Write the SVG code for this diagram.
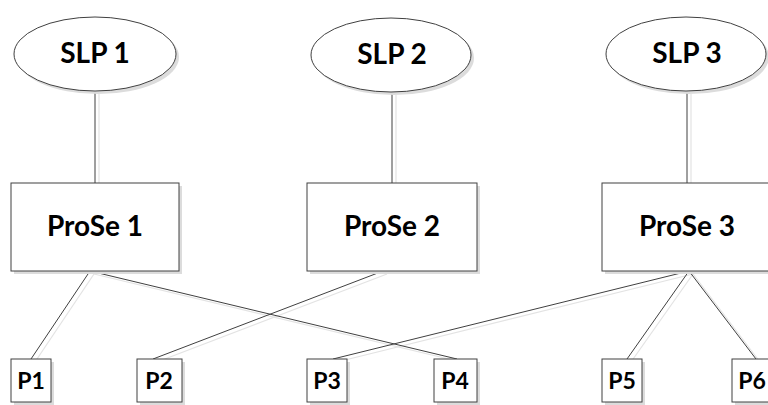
<svg xmlns="http://www.w3.org/2000/svg" width="768" height="405" viewBox="0 0 768 405">
  <style>
    .shape { fill: #ffffff; stroke: #404040; stroke-width: 1; }
    .shadow { fill: #dcdcdc; stroke: none; }
    .conn { stroke: #404040; stroke-width: 1; fill: none; }
    .connsh { stroke: #e3e3e3; stroke-width: 1.2; fill: none; }
    .big { font-family: Lato, "Liberation Sans", sans-serif; font-weight: bold; font-size: 28px; fill: #000; text-anchor: middle; }
    .mid { font-family: Lato, "Liberation Sans", sans-serif; font-weight: bold; font-size: 28px; fill: #000; text-anchor: middle; }
    .small { font-family: Lato, "Liberation Sans", sans-serif; font-weight: bold; font-size: 23px; fill: #000; text-anchor: middle; }
  </style>
  <rect width="768" height="405" fill="#ffffff"/>
  <g id="connectors">
    <g transform="translate(4,3)">
      <line class="connsh" x1="95" y1="91" x2="95" y2="183"/>
      <line class="connsh" x1="392" y1="92" x2="392" y2="183"/>
      <line class="connsh" x1="687" y1="91" x2="687" y2="183"/>
      <line class="connsh" x1="90" y1="271" x2="31" y2="359"/>
      <line class="connsh" x1="90" y1="271" x2="457" y2="359"/>
      <line class="connsh" x1="383" y1="271" x2="153" y2="359"/>
      <line class="connsh" x1="689" y1="271" x2="333" y2="359"/>
      <line class="connsh" x1="689" y1="271" x2="627" y2="359"/>
      <line class="connsh" x1="689" y1="271" x2="756" y2="359"/>
    </g>
    <line class="conn" x1="95" y1="91" x2="95" y2="183"/>
    <line class="conn" x1="392" y1="92" x2="392" y2="183"/>
    <line class="conn" x1="687" y1="91" x2="687" y2="183"/>
    <line class="conn" x1="90" y1="271" x2="31" y2="359"/>
    <line class="conn" x1="90" y1="271" x2="457" y2="359"/>
    <line class="conn" x1="383" y1="271" x2="153" y2="359"/>
    <line class="conn" x1="689" y1="271" x2="333" y2="359"/>
    <line class="conn" x1="689" y1="271" x2="627" y2="359"/>
    <line class="conn" x1="689" y1="271" x2="756" y2="359"/>
  </g>
  <g id="slp1">
    <ellipse class="shadow" cx="98" cy="57" rx="81" ry="37"/>
    <ellipse class="shape" cx="95" cy="54" rx="81" ry="37"/>
    <text class="big" x="95" y="63">SLP 1</text>
  </g>
  <g id="slp2">
    <ellipse class="shadow" cx="394" cy="58" rx="80" ry="37"/>
    <ellipse class="shape" cx="391" cy="55" rx="80" ry="37"/>
    <text class="big" x="392" y="64">SLP 2</text>
  </g>
  <g id="slp3">
    <ellipse class="shadow" cx="689" cy="57" rx="80" ry="37"/>
    <ellipse class="shape" cx="686" cy="54" rx="80" ry="37"/>
    <text class="big" x="687" y="63">SLP 3</text>
  </g>
  <g id="prose1">
    <rect class="shadow" x="14" y="186" width="168" height="88"/>
    <rect class="shape" x="11" y="183" width="168" height="88"/>
    <text class="mid" x="95" y="236">ProSe 1</text>
  </g>
  <g id="prose2">
    <rect class="shadow" x="310" y="186" width="170" height="88"/>
    <rect class="shape" x="307" y="183" width="170" height="88"/>
    <text class="mid" x="392" y="236">ProSe 2</text>
  </g>
  <g id="prose3">
    <rect class="shadow" x="605" y="186" width="170" height="88"/>
    <rect class="shape" x="602" y="183" width="170" height="88"/>
    <text class="mid" x="687" y="236">ProSe 3</text>
  </g>
  <g id="p1">
    <rect class="shadow" x="14" y="362" width="40" height="43"/>
    <rect class="shape" x="11" y="359" width="40" height="43"/>
    <text class="small" x="31" y="389">P1</text>
  </g>
  <g id="p2">
    <rect class="shadow" x="140" y="362" width="45" height="43"/>
    <rect class="shape" x="137" y="359" width="45" height="43"/>
    <text class="small" x="159" y="389">P2</text>
  </g>
  <g id="p3">
    <rect class="shadow" x="310" y="362" width="40" height="43"/>
    <rect class="shape" x="307" y="359" width="40" height="43"/>
    <text class="small" x="327" y="389">P3</text>
  </g>
  <g id="p4">
    <rect class="shadow" x="437" y="362" width="43" height="43"/>
    <rect class="shape" x="434" y="359" width="43" height="43"/>
    <text class="small" x="455" y="389">P4</text>
  </g>
  <g id="p5">
    <rect class="shadow" x="605" y="362" width="40" height="43"/>
    <rect class="shape" x="602" y="359" width="40" height="43"/>
    <text class="small" x="622" y="389">P5</text>
  </g>
  <g id="p6">
    <rect class="shadow" x="735" y="362" width="40" height="43"/>
    <rect class="shape" x="732" y="359" width="40" height="43"/>
    <text class="small" x="752" y="389">P6</text>
  </g>
</svg>
